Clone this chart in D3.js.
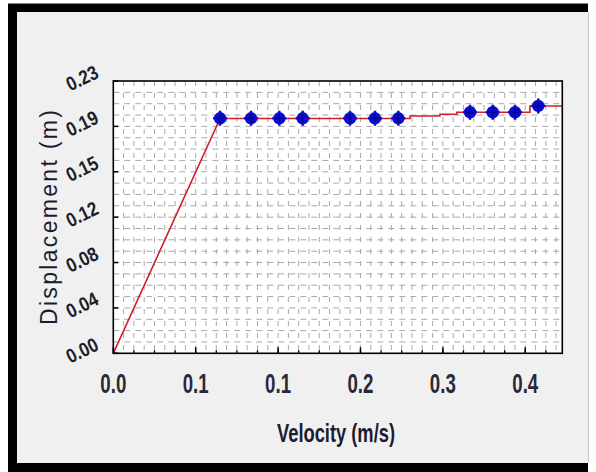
<!DOCTYPE html>
<html><head><meta charset="utf-8">
<script src="https://cdn.jsdelivr.net/npm/d3@7"></script>
<style>html,body{margin:0;padding:0;background:#fff;}svg{display:block;}</style>
</head><body>
<script>
// ---- data ----
const markerX = [0.0951, 0.1227, 0.1479, 0.1687, 0.2109, 0.2331, 0.2539, 0.3178, 0.3380, 0.3579, 0.3786];
const markerY = [0.1985, 0.1985, 0.1985, 0.1985, 0.1985, 0.1985, 0.1985, 0.2036, 0.2036, 0.2036, 0.2089];
const lineX = [0, 0.0951, 0.2643, 0.2643, 0.2910, 0.2910, 0.3061, 0.3061, 0.3712, 0.3712, 0.40];
const lineY = [0, 0.1983, 0.1983, 0.2004, 0.2004, 0.2019, 0.2019, 0.2036, 0.2036, 0.2089, 0.2089];
const xTicks = [0, 0.0734, 0.1468, 0.2202, 0.2936, 0.3670];
const xTickLabels = ["0.0", "0.1", "0.1", "0.2", "0.3", "0.4"];
const yTicks = [0, 0.23/6, 0.46/6, 0.69/6, 0.92/6, 1.15/6, 0.23];
const yTickLabels = ["0.00", "0.04", "0.08", "0.12", "0.15", "0.19", "0.23"];
const xTitle = "Velocity (m/s)";
const yTitle = "Displacement (m)";

const W = 596, H = 472;
const L = 113.3, R = 562.3, T = 81, B = 353.3;

const svg = d3.select("body").append("svg").attr("width", W).attr("height", H);

// frame
svg.append("rect").attr("x", 0).attr("y", 0).attr("width", W).attr("height", H).attr("fill", "#ffffff");
svg.append("rect").attr("x", 8).attr("y", 3.5).attr("width", 580).attr("height", 468.5).attr("fill", "#000");
svg.append("rect").attr("x", 17).attr("y", 12).attr("width", 571).attr("height", 451).attr("fill", "#f0f0f0");
svg.append("line").attr("x1", 588.5).attr("x2", 588.5).attr("y1", 12).attr("y2", 463).attr("stroke", "#c8c8c8");

const x = d3.scaleLinear().domain([0, 0.40]).range([L, R]);
const y = d3.scaleLinear().domain([0, 0.23]).range([B, T]);

// plot background
svg.append("rect").attr("x", L).attr("y", T).attr("width", R - L).attr("height", B - T).attr("fill", "#fff");

// grid
const g = svg.append("g");
const xStep = xTicks[1] / 8;
const vGrid = d3.range(1, 100).map(i => i * xStep).filter(v => v < 0.40 - 1e-6);
const hStep = 0.23 / 24;
const hGrid = d3.range(1, 24).map(i => i * hStep);
g.selectAll("line.v").data(vGrid).join("line")
  .attr("x1", d => x(d)).attr("x2", d => x(d)).attr("y1", T).attr("y2", B)
  .attr("stroke", "#a8a8a8").attr("stroke-width", 1).attr("stroke-dasharray", "5,7");
g.selectAll("line.h").data(hGrid).join("line")
  .attr("x1", L).attr("x2", R).attr("y1", d => y(d)).attr("y2", d => y(d))
  .attr("stroke", "#a8a8a8").attr("stroke-width", 1).attr("stroke-dasharray", "6,5");

// ticks (inward)
const xMinor = d3.range(1, 40).map(i => i * xTicks[1] / 4).filter(v => v < 0.40 - 1e-6);
svg.selectAll("line.xm").data(xMinor).join("line")
  .attr("x1", d => x(d)).attr("x2", d => x(d)).attr("y1", B).attr("y2", B - 3)
  .attr("stroke", "#000").attr("stroke-width", 1.3);
svg.selectAll("line.xM").data(xTicks).join("line")
  .attr("x1", d => x(d)).attr("x2", d => x(d)).attr("y1", B).attr("y2", B - 6)
  .attr("stroke", "#000").attr("stroke-width", 1.5);
svg.selectAll("line.yM").data(yTicks).join("line")
  .attr("x1", L).attr("x2", L + 5).attr("y1", d => y(d)).attr("y2", d => y(d))
  .attr("stroke", "#000").attr("stroke-width", 1.5);

// line
const lineData = lineX.map((v, i) => [v, lineY[i]]);
svg.append("path").datum(lineData)
  .attr("d", d3.line().x(d => x(d[0])).y(d => y(d[1])))
  .attr("fill", "none").attr("stroke", "#d11f2a").attr("stroke-width", 1.6);

// markers
const pts = markerX.map((v, i) => [v, markerY[i]]);
const mk = svg.selectAll("g.m").data(pts).join("g")
  .attr("transform", d => `translate(${x(d[0])},${y(d[1])})`);
mk.append("circle").attr("r", 6.2).attr("fill", "#0a0ad2");
mk.append("path").attr("d", "M-7,0H7M0,-7.5V7.5").attr("stroke", "#0a0ad2").attr("stroke-width", 2.5);
mk.append("path").attr("d", "M-4,0H4M0,-4V4").attr("stroke", "#05057a").attr("stroke-width", 1);

// plot border
svg.append("rect").attr("x", L).attr("y", T).attr("width", R - L).attr("height", B - T)
  .attr("fill", "none").attr("stroke", "#000").attr("stroke-width", 1.6);

// x tick labels
svg.selectAll("text.xl").data(xTicks).join("text")
  .attr("x", d => x(d)).attr("y", 393)
  .attr("text-anchor", "middle")
  .attr("font-family", "'Liberation Sans',Arial,sans-serif").attr("font-weight", "bold")
  .attr("font-size", 27).attr("fill", "#2a2838")
  .attr("textLength", 26).attr("lengthAdjust", "spacingAndGlyphs")
  .text((d, i) => xTickLabels[i]);

// y tick labels (tilted)
svg.selectAll("text.yl").data(yTicks).join("text")
  .attr("transform", d => `translate(${82},${y(d) - 3}) rotate(-26)`)
  .attr("text-anchor", "middle").attr("dy", "0.35em")
  .attr("font-family", "'Liberation Sans',Arial,sans-serif").attr("font-weight", "bold")
  .attr("font-size", 20).attr("fill", "#1e1e2a")
  .attr("textLength", 33).attr("lengthAdjust", "spacingAndGlyphs")
  .text((d, i) => yTickLabels[i]);

// titles
svg.append("text")
  .attr("x", 336).attr("y", 442).attr("text-anchor", "middle")
  .attr("font-family", "'Liberation Sans',Arial,sans-serif").attr("font-weight", "bold")
  .attr("font-size", 25).attr("fill", "#1c1c30")
  .attr("textLength", 118).attr("lengthAdjust", "spacingAndGlyphs")
  .text(xTitle);
svg.append("text")
  .attr("transform", "translate(57,217.5) rotate(-90)").attr("text-anchor", "middle")
  .attr("font-family", "'Liberation Sans',Arial,sans-serif")
  .attr("font-size", 23).attr("fill", "#1c1c30")
  .attr("textLength", 215).attr("lengthAdjust", "spacing")
  .text(yTitle);
</script>
</body></html>
